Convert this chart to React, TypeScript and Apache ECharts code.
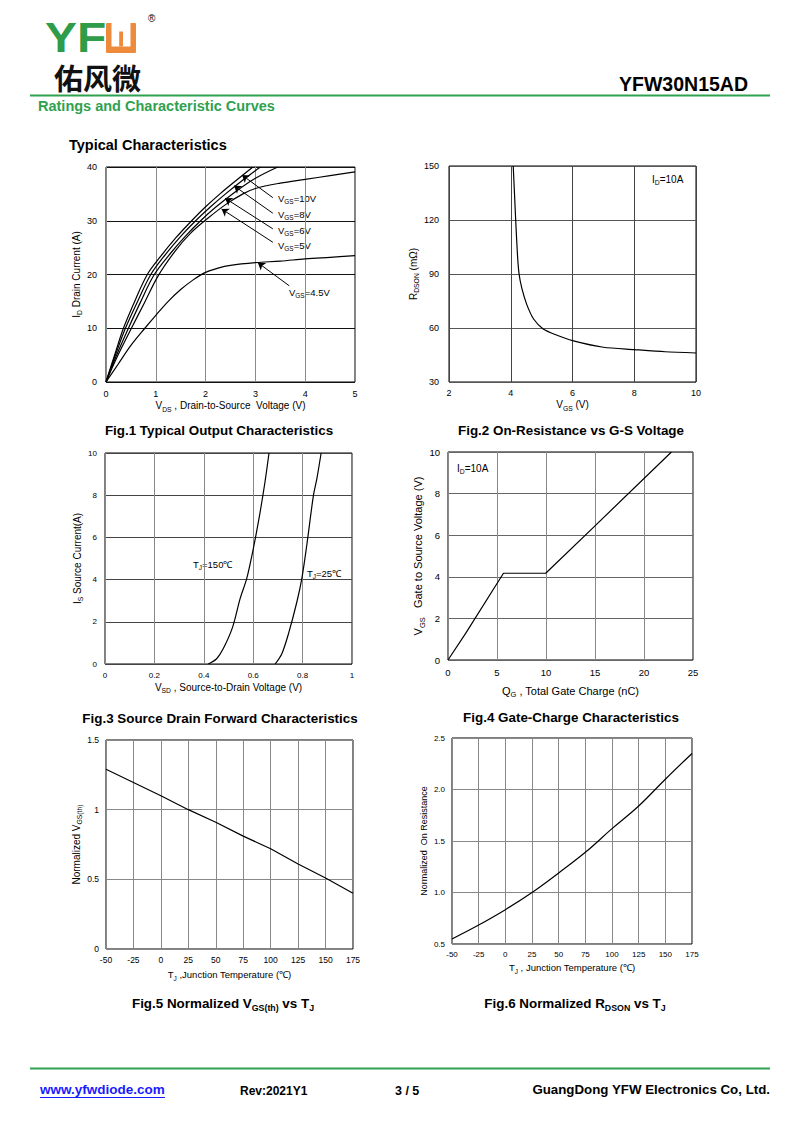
import React, { useEffect, useRef } from 'react';
import * as echarts from 'echarts';

// ---------- Fig.1 Output characteristics (VDS V, ID A) ----------
const fig1Vgs10 = [[0,0],[0.2,5.8],[0.35,10],[0.6,15.5],[0.83,20],[1.1,23.4],[1.4,26.8],[1.72,30],[2,32.6],[2.3,35.1],[2.6,37.4],[2.95,40]];
const fig1Vgs8 = [[0,0],[0.2,5.3],[0.39,10],[0.65,15.3],[0.9,20],[1.2,23.8],[1.5,27.1],[1.8,30],[2.1,32.6],[2.4,35],[2.75,37.6],[3.1,40]];
const fig1Vgs6 = [[0,0],[0.2,4.7],[0.45,10],[0.7,15],[0.97,20],[1.3,24],[1.6,27.2],[1.9,30],[2.2,32.5],[2.6,35.4],[3,37.9],[3.45,40]];
const fig1Vgs5 = [[0,0],[0.2,4.2],[0.51,10],[0.77,14.7],[1.05,19.8],[1.4,24.5],[1.7,27.7],[2.05,30.5],[2.4,33],[2.75,35],[3,36],[3.5,37],[4,37.7],[4.5,38.4],[5,39.1]];
const fig1Vgs45 = [[0,0],[0.25,3.4],[0.5,6.8],[0.78,10],[1,12.4],[1.25,15],[1.5,17.2],[1.75,19],[2,20.4],[2.25,21.2],[2.5,21.7],[3,22.2],[3.5,22.5],[4,22.9],[4.5,23.2],[5,23.5]];
// arrows: [tail, head] in data units
const fig1Arrows = [
  [[3.35, 34.3], [2.73, 38.5]],
  [[3.35, 31.4], [2.57, 36.5]],
  [[3.35, 28.5], [2.39, 34.2]],
  [[3.35, 26.0], [2.32, 32.2]],
  [[3.68, 17.9], [3.05, 22.2]],
];
const fig1Labels = ['V{s|GS}=10V', 'V{s|GS}=8V', 'V{s|GS}=6V', 'V{s|GS}=5V', 'V{s|GS}=4.5V'];

// ---------- Fig.2 RDSON vs VGS ----------
const fig2Rdson = [[4.08,150],[4.12,135],[4.16,120],[4.22,100],[4.27,90],[4.36,82],[4.52,73],[4.74,65],[5.05,59.5],[5.5,56],[6,53],[7,49.3],[8,48],[9,46.8],[10,46.1]];

// ---------- Fig.3 Source-drain forward ----------
const fig3Tj150 = [[0.418,0],[0.452,0.25],[0.479,0.73],[0.517,1.76],[0.547,3.1],[0.574,4.06],[0.601,5.5],[0.628,7.2],[0.648,8.65],[0.664,10]];
const fig3Tj25 = [[0.689,0],[0.716,0.49],[0.743,1.44],[0.777,2.95],[0.797,4.06],[0.817,5.64],[0.844,8.0],[0.858,8.8],[0.875,10]];

// ---------- Fig.4 Gate charge ----------
const fig4Vgs = [[0,0],[1.8,1.28],[5.66,4.17],[9.97,4.17],[15,6.45],[22.8,10]];

// ---------- Fig.5 Normalized VGS(th) ----------
const fig5Vth = [[-50,1.29],[0,1.1],[25,1.0],[50,0.91],[75,0.81],[100,0.72],[125,0.61],[150,0.51],[175,0.40]];

// ---------- Fig.6 Normalized RDSON ----------
const fig6Rdson = [[-50,0.549],[-25,0.684],[0,0.833],[25,1.0],[50,1.19],[75,1.39],[100,1.62],[125,1.84],[150,2.10],[175,2.35]];

const captions = [
  'Fig.1 Typical Output Characteristics',
  'Fig.2 On-Resistance vs G-S Voltage',
  'Fig.3 Source Drain Forward Characteristics',
  'Fig.4 Gate-Charge Characteristics',
  'Fig.5 Normalized V{s|GS(th)} vs T{s|J}',
  'Fig.6 Normalized R{s|DSON} vs T{s|J}',
];

const FONT = '"Liberation Sans", Arial, sans-serif';
const GREEN = '#2fa14f';

function rich(fs: number) {
  return { s: { fontSize: fs * 0.68, fontFamily: FONT, color: '#000', verticalAlign: 'bottom', lineHeight: fs * 0.8 } };
}

function ax(gi: number, min: number, max: number, interval: number, name: string, gap: number, nfs: number, lfs: number, split: string, margin: number, fmt?: (v: number) => string) {
  return {
    type: 'value', gridIndex: gi, min, max, interval,
    name, nameLocation: 'middle', nameGap: gap,
    nameTextStyle: { fontSize: nfs, fontFamily: FONT, color: '#000', lineHeight: nfs * 1.4, rich: rich(nfs) },
    axisLine: { show: false }, axisTick: { show: false },
    axisLabel: { fontSize: lfs, fontFamily: FONT, color: '#000', margin, formatter: fmt },
    splitLine: { show: true, lineStyle: { color: split, width: 1 } },
  };
}

function line(gi: number, data: number[][], smooth: boolean | number, extra: any = {}) {
  return {
    type: 'line', xAxisIndex: gi, yAxisIndex: gi, data, smooth,
    symbol: 'none', showSymbol: false, silent: true,
    lineStyle: { color: '#000', width: 1.2 },
    ...extra,
  };
}

function txt(x: number, y: number, text: string, fs: number, opts: any = {}) {
  return {
    type: 'text', x, y, silent: true,
    scaleX: opts.scaleX || 1,
    style: {
      text, fontSize: fs, fontFamily: opts.family || FONT, fontWeight: opts.weight || 'normal',
      fill: opts.fill || '#000', align: opts.align || 'left', verticalAlign: 'middle',
      lineHeight: opts.lh || fs * 1.4, rich: opts.rich || rich(fs),
    },
  };
}

export default function App() {
  const ref = useRef<HTMLDivElement>(null);
  useEffect(() => {
    const chart = echarts.init(ref.current!, null, { renderer: 'svg' });
    const grids = [
      { left: 106, top: 167, width: 249, height: 215 },
      { left: 449, top: 166, width: 247, height: 216 },
      { left: 105, top: 453, width: 247, height: 211 },
      { left: 448, top: 452, width: 245, height: 208 },
      { left: 106, top: 740, width: 247, height: 209 },
      { left: 452, top: 738, width: 240, height: 206 },
    ].map((g) => ({ ...g, show: true, borderColor: '#000', borderWidth: 1, backgroundColor: 'transparent' }));

    const capRich = { s: { fontSize: 8.8, fontFamily: FONT, fontWeight: 'bold', color: '#000', verticalAlign: 'bottom', lineHeight: 10 } };
    const capPos = [[219, 430], [571, 430], [220, 718], [571, 717], [223, 1003], [575, 1003]];

    const fig1LabelPos = [[278, 198], [278, 214], [278, 230], [278, 245], [289, 292]];

    const option: any = {
      animation: false,
      backgroundColor: '#fff',
      grid: grids,
      xAxis: [
        ax(0, 0, 5, 1, 'V{s|DS} , Drain-to-Source  Voltage (V)', 14, 10, 9, '#8a8a8a', 7),
        ax(1, 2, 10, 2, 'V{s|GS} (V)', 14, 10, 9, '#444', 6),
        ax(2, 0, 1, 0.2, 'V{s|SD} , Source-to-Drain Voltage (V)', 16, 10, 8, '#888', 7),
        ax(3, 0, 25, 5, 'Q{s|G} , Total Gate Charge (nC)', 23, 11, 9.5, '#888', 7),
        ax(4, -50, 175, 25, 'T{s|J} ,Junction Temperature (℃)', 19, 9.5, 8.5, '#888', 6),
        ax(5, -50, 175, 25, 'T{s|J} , Junction Temperature (℃)', 17, 9.5, 8, '#888', 6),
      ],
      yAxis: [
        ax(0, 0, 40, 10, 'I{s|D} Drain Current (A)', 22, 10, 9, '#111', 9),
        ax(1, 30, 150, 30, 'R{s|DSON} (mΩ)', 23, 10, 9, '#555', 10),
        ax(2, 0, 10, 2, 'I{s|S} Source Current(A)', 20, 10, 8, '#444', 8),
        ax(3, 0, 10, 2, 'V{s|GS}   Gate to Source Voltage (V)', 17, 11, 9.5, '#666', 8),
        ax(4, 0, 1.5, 0.5, 'Normalized V{s|GS(th)}', 20, 10, 8.5, '#888', 7),
        ax(5, 0.5, 2.5, 0.5, 'Normalized  On Resistance', 18, 9, 8, '#888', 7, (v: number) => v.toFixed(1)),
      ],
      series: [
        line(0, fig1Vgs10, 0.35, {
          markLine: {
            silent: true, symbol: ['none', 'arrow'], symbolSize: 7, animation: false,
            label: { show: false },
            lineStyle: { color: '#000', width: 1, type: 'solid' },
            data: fig1Arrows.map((a) => [{ coord: a[0] }, { coord: a[1] }]),
          },
        }),
        line(0, fig1Vgs8, 0.35),
        line(0, fig1Vgs6, 0.35),
        line(0, fig1Vgs5, 0.35),
        line(0, fig1Vgs45, 0.35),
        line(1, fig2Rdson, 0.25),
        line(2, fig3Tj150, 0.3),
        line(2, fig3Tj25, 0.3),
        line(3, fig4Vgs, false),
        line(4, fig5Vth, false),
        line(5, fig6Rdson, 0.4),
      ],
      graphic: [
        // logo
        txt(45, 38, 'YF', 42, { weight: 'bold', fill: '#2e9c49', scaleX: 1.14, lh: 42 }),
        { type: 'rect', silent: true, shape: { x: 106, y: 23, width: 30, height: 30, r: 1 }, style: { fill: '#ee8a3c' } },
        { type: 'rect', silent: true, shape: { x: 111.5, y: 23, width: 19, height: 23.5 }, style: { fill: '#fff' } },
        { type: 'rect', silent: true, shape: { x: 119.2, y: 31.5, width: 3.8, height: 15 }, style: { fill: '#ee8a3c' } },
        txt(148, 18, '®', 10, { lh: 10 }),
        txt(54, 77, '佑风微', 29, { weight: 'bold', family: '"Noto Sans CJK SC"', fill: '#111', lh: 29 }),
        txt(748, 84, 'YFW30N15AD', 19.5, { weight: 'bold', align: 'right' }),
        { type: 'line', silent: true, shape: { x1: 30, y1: 95.5, x2: 770, y2: 95.5 }, style: { stroke: GREEN, lineWidth: 2 } },
        txt(38, 106, 'Ratings and Characteristic Curves', 14.5, { weight: 'bold', fill: GREEN, scaleX: 1 }),
        txt(69, 145, 'Typical Characteristics', 14.5, { weight: 'bold' }),
        // captions
        ...captions.map((c, i) => txt(capPos[i][0], capPos[i][1], c, 13.4, { weight: 'bold', align: 'center', rich: capRich })),
        // annotations
        ...fig1Labels.map((l, i) => txt(fig1LabelPos[i][0], fig1LabelPos[i][1], l, 9.5)),
        txt(652, 179, 'I{s|D}=10A', 10),
        txt(457, 468, 'I{s|D}=10A', 10),
        txt(193, 564, 'T{s|J}=150℃', 9.5),
        txt(307, 573, 'T{s|J}=25℃', 9.5),
        // footer
        { type: 'line', silent: true, shape: { x1: 30, y1: 1068.5, x2: 770, y2: 1068.5 }, style: { stroke: GREEN, lineWidth: 2 } },
        txt(40, 1089, 'www.yfwdiode.com', 13.5, { weight: 'bold', fill: '#1a1aff' }),
        { type: 'line', silent: true, shape: { x1: 40, y1: 1097.5, x2: 165, y2: 1097.5 }, style: { stroke: '#1a1aff', lineWidth: 1 } },
        txt(240, 1091, 'Rev:2021Y1', 12, { weight: 'bold' }),
        txt(395, 1091, '3 / 5', 12.5, { weight: 'bold' }),
        txt(770, 1089, 'GuangDong YFW Electronics Co, Ltd.', 13.3, { weight: 'bold', align: 'right' }),
      ],
    };
    chart.setOption(option);
    return () => chart.dispose();
  }, []);
  return <div ref={ref} style={{ position: 'absolute', left: 0, top: 0, width: 800, height: 1130, background: '#fff' }} />;
}
